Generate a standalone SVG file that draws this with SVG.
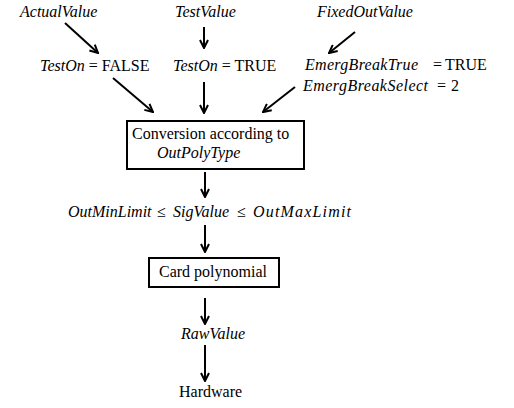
<svg xmlns="http://www.w3.org/2000/svg" width="514" height="408" viewBox="0 0 514 408">
<defs>
<style>
text{font-family:'Liberation Serif','Times New Roman',serif;font-size:16px;fill:#000}
.i{font-style:italic}
.box{fill:#fff;stroke:#000;stroke-width:2}
.c line{stroke:#000;stroke-width:2}
</style>
<marker id="ah" viewBox="0 0 10 10" refX="9" refY="5" markerWidth="10" markerHeight="10" markerUnits="userSpaceOnUse" orient="auto">
<path d="M1,1 L9,5 L1,9" fill="none" stroke="#000" stroke-width="2"/>
</marker>
</defs>
<rect width="514" height="408" fill="#fff"/>
<g id="actualvalue"><text x="20" y="17" class="i">ActualValue</text></g>
<g id="testvalue"><text x="175" y="17" class="i">TestValue</text></g>
<g id="fixedoutvalue"><text x="317" y="17" class="i">FixedOutValue</text></g>
<g id="teston-false"><text x="40" y="71"><tspan class="i">TestOn</tspan> = FALSE</text></g>
<g id="teston-true"><text x="173" y="71"><tspan class="i">TestOn</tspan> = TRUE</text></g>
<g id="emerg"><text x="305" y="70" class="i" textLength="113" lengthAdjust="spacing">EmergBreakTrue</text><text x="433" y="70">=</text><text x="445" y="70">TRUE</text><text x="303" y="91" class="i" textLength="125" lengthAdjust="spacing">EmergBreakSelect</text><text x="437" y="91">=</text><text x="451" y="91">2</text></g>
<g id="conversion"><rect class="box" x="127" y="121" width="177" height="48"/><text x="132" y="139">Conversion according to</text><text x="157" y="158" class="i">OutPolyType</text></g>
<g id="limits"><text x="68" y="217" class="i">OutMinLimit</text><text x="157" y="217">≤</text><text x="173" y="217" class="i">SigValue</text><text x="237" y="217">≤</text><text x="253" y="217" class="i" textLength="98" lengthAdjust="spacing">OutMaxLimit</text></g>
<g id="card"><rect class="box" x="149" y="258" width="130" height="29"/><text x="159" y="277">Card polynomial</text></g>
<g id="rawvalue"><text x="181" y="339" class="i">RawValue</text></g>
<g id="hardware"><text x="179" y="397">Hardware</text></g>
<g class="c" id="connectors">
<line x1="65" y1="23" x2="98" y2="53" marker-end="url(#ah)"/>
<line x1="204" y1="27" x2="204" y2="48" marker-end="url(#ah)"/>
<line x1="355" y1="32" x2="329" y2="53" marker-end="url(#ah)"/>
<line x1="113" y1="78" x2="153" y2="112" marker-end="url(#ah)"/>
<line x1="204" y1="82" x2="204" y2="113" marker-end="url(#ah)"/>
<line x1="295" y1="87" x2="263" y2="112" marker-end="url(#ah)"/>
<line x1="205" y1="172" x2="205" y2="197" marker-end="url(#ah)"/>
<line x1="205" y1="225" x2="205" y2="252" marker-end="url(#ah)"/>
<line x1="205" y1="298" x2="205" y2="324" marker-end="url(#ah)"/>
<line x1="205" y1="345" x2="205" y2="381" marker-end="url(#ah)"/>
</g>
</svg>
